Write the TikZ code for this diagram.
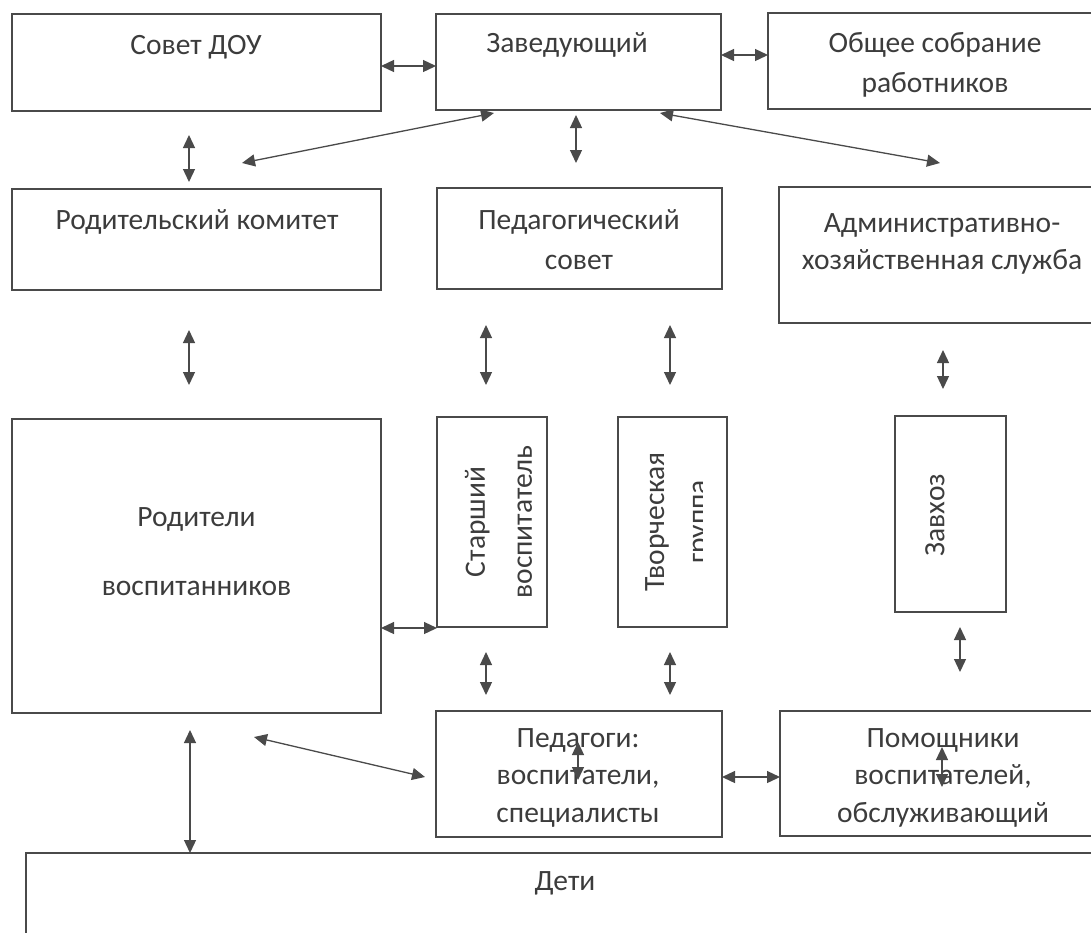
\documentclass[tikz,border=0pt]{standalone}
\usepackage{fontspec}
\setmainfont{Carlito}
\usetikzlibrary{arrows.meta}
\definecolor{boxline}{HTML}{4A4A4A}
\definecolor{boxtext}{HTML}{3C3C3C}

\begin{document}
\begin{tikzpicture}[x=1pt,y=-1pt]
		\useasboundingbox (0,0) rectangle (1091,932);
		\clip (0,0) rectangle (1091,932);
		\begin{scope}
		
		\tikzstyle{mybox}=[rectangle,
		draw=boxline,
		line width=1.3pt,
		inner sep=0pt,
		outer sep=0pt
		]
		\tikzstyle{mytext}=[text=boxtext,
		inner sep=0pt,
		align=center,
		font=\fontsize{29.5}{40}\selectfont
		]
		\tikzstyle{dblarrow}=[{Triangle[length=13pt,width=12pt]}-{Triangle[length=13pt,width=12pt]},
		draw=boxline,
		line width=1.3pt
		]
		
		\coordinate (psovet) at (196.5, 62.5);
		\coordinate (pzav) at (578.5, 62);
		\coordinate (pobsh) at (934, 61);
		\coordinate (prodkom) at (196.5, 239.5);
		\coordinate (ppedsov) at (579.5, 238.5);
		\coordinate (padmin) at (939.5, 255);
		\coordinate (proditeli) at (196.5, 566);
		\coordinate (pstarsh) at (492, 522);
		\coordinate (ptvorch) at (672.5, 522);
		\coordinate (pzavhoz) at (950.5, 514);
		\coordinate (ppedagogi) at (579, 774);
		\coordinate (ppomosh) at (940, 773.5);
		\coordinate (pdeti) at (563, 901.5);
		
		% boxes
		\node[mybox, minimum width=369, minimum height=97] (sovet) at (psovet) {};
		\node[mybox, minimum width=285, minimum height=96] (zav) at (pzav) {};
		\node[mybox, minimum width=332, minimum height=96] (obsh) at (pobsh) {};
		\node[mybox, minimum width=369, minimum height=101] (rodkom) at (prodkom) {};
		\node[mybox, minimum width=285, minimum height=101] (pedsov) at (ppedsov) {};
		\node[mybox, minimum width=321, minimum height=136] (admin) at (padmin) {};
		\node[mybox, minimum width=369, minimum height=294] (roditeli) at (proditeli) {};
		\node[mybox, minimum width=110, minimum height=210] (starsh) at (pstarsh) {};
		\node[mybox, minimum width=109, minimum height=210] (tvorch) at (ptvorch) {};
		\node[mybox, minimum width=111, minimum height=196] (zavhoz) at (pzavhoz) {};
		\node[mybox, minimum width=286, minimum height=126] (pedagogi) at (ppedagogi) {};
		\node[mybox, minimum width=320, minimum height=125] (pomosh) at (ppomosh) {};
		\node[mybox, minimum width=1074, minimum height=97] (deti) at (pdeti) {};
		
		% texts
		\node[mytext] (sovet-t) at (196, 47) {Совет ДОУ};
		\node[mytext] (zav-t) at (567, 45) {Заведующий};
		\node[mytext] (obsh-t) at (935, 65) {Общее собрание\\работников};
		\node[mytext] (rodkom-t) at (197, 222) {Родительский комитет};
		\node[mytext] (pedsov-t) at (579, 240) {Педагогический\\совет};
		\node[mytext, font=\fontsize{29.5}{37}\selectfont] (admin-t) at (942, 243.5) {Административно-\\хозяйственная служба};
		\node[mytext, font=\fontsize{29.5}{69}\selectfont] (roditeli-t) at (196.5, 552) {Родители\\воспитанников};
		\node[mytext, rotate=90, font=\fontsize{29.5}{47}\selectfont] (starsh-t) at (498.5, 522) {Старший\\воспитатель};
		\node[mytext, rotate=90] (zavhoz-t) at (935, 515) {Завхоз};
		\node[mytext, font=\fontsize{29.5}{37.5}\selectfont] (pedagogi-t) at (578, 777.5) {Педагоги:\\воспитатели,\\специалисты};
		\node[mytext, font=\fontsize{29.5}{37.5}\selectfont] (pomosh-t) at (943, 777.5) {Помощники\\воспитателей,\\обслуживающий};
		\node[mytext] (deti-t) at (565, 883) {Дети};
		\begin{scope}
		\clip (618,417) rectangle (702,627);
		\node[mytext, rotate=90, font=\fontsize{29.5}{43}\selectfont] (tvorch-t) at (678.5, 522) {Творческая\\группа};
		\end{scope}
		
		% free ends of the slanted arrows
		\coordinate (zr-a) at (494, 113);
		\coordinate (zr-b) at (242, 163);
		\coordinate (za-a) at (660, 113);
		\coordinate (za-b) at (940, 163);
		\coordinate (rp-a) at (254, 737);
		\coordinate (rp-b) at (425, 777);
		
		\draw[dblarrow] (sovet.east |- 0,66) -- (zav.west |- 0,66);
		\draw[dblarrow] (zav.east |- 0,55) -- (obsh.west |- 0,55);
		\draw[dblarrow, shorten <=24pt, shorten >=7pt] (sovet.south -| 189,0) -- (rodkom.north -| 189,0);
		\draw[dblarrow] (zr-a) -- (zr-b);
		\draw[dblarrow, shorten <=5pt, shorten >=25pt] (zav.south -| 576,0) -- (pedsov.north -| 576,0);
		\draw[dblarrow] (za-a) -- (za-b);
		\draw[dblarrow, shorten <=40pt, shorten >=34pt] (rodkom.south -| 189,0) -- (roditeli.north -| 189,0);
		\draw[dblarrow, shorten <=36pt, shorten >=32pt] (pedsov.south -| 486,0) -- (starsh.north -| 486,0);
		\draw[dblarrow, shorten <=36pt, shorten >=32pt] (pedsov.south -| 670,0) -- (tvorch.north -| 670,0);
		\draw[dblarrow, shorten <=27pt, shorten >=27pt] (admin.south -| 943,0) -- (zavhoz.north -| 943,0);
		\draw[dblarrow] (roditeli.east |- 0,628) -- (starsh.west |- 0,628);
		\draw[dblarrow, shorten <=25pt, shorten >=16pt] (starsh.south -| 486,0) -- (pedagogi.north -| 486,0);
		\draw[dblarrow, shorten <=25pt, shorten >=16pt] (tvorch.south -| 670,0) -- (pedagogi.north -| 670,0);
		\draw[dblarrow, shorten <=15pt, shorten >=39pt] (zavhoz.south -| 960,0) -- (pomosh.north -| 960,0);
		\draw[dblarrow, shorten <=17pt] (roditeli.south -| 190,0) -- (deti.north -| 190,0);
		\draw[dblarrow] (rp-a) -- (rp-b);
		\draw[dblarrow] (pedagogi.east |- 0,777) -- (pomosh.west |- 0,777);
		\draw[dblarrow, shorten <=31pt, shorten >=57pt] (pedagogi.north -| 578,0) -- (pedagogi.south -| 578,0);
		\draw[dblarrow, shorten <=36pt, shorten >=49pt] (pomosh.north -| 942,0) -- (pomosh.south -| 942,0);
		
		\end{scope}
\end{tikzpicture}
\end{document}
